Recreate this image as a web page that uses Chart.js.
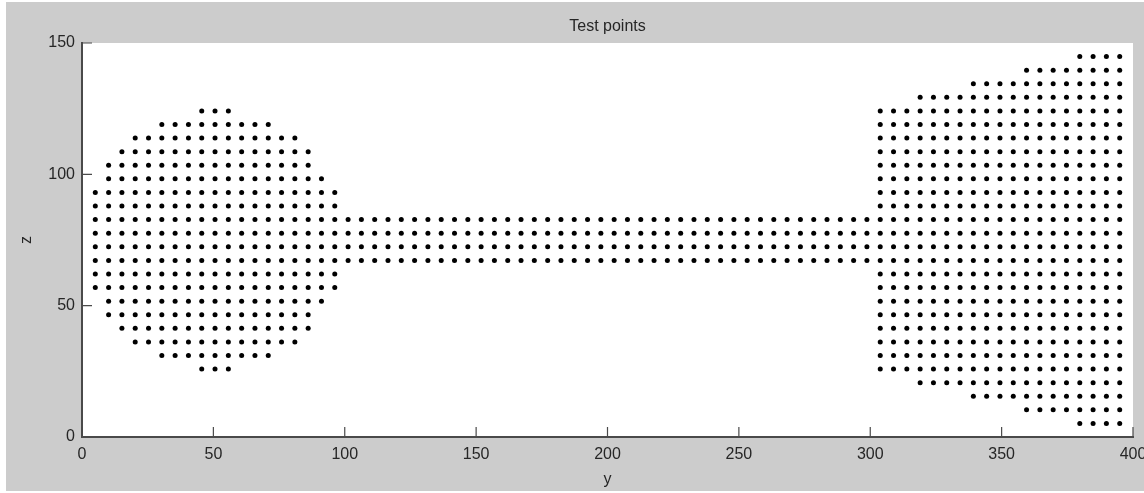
<!DOCTYPE html>
<html>
<head>
<meta charset="utf-8">
<title>Test points</title>
<script src="https://cdn.jsdelivr.net/npm/chart.js@4/dist/chart.umd.min.js"></script>
<style>
  html, body { margin: 0; padding: 0; background: #ffffff; }
  canvas { display: block; }
</style>
</head>
<body>
<canvas id="testPoints" width="1144" height="493"></canvas>
<script>
// Grid levels along y (horizontal) and z (vertical) where test points may sit
const yLevels = [
  5.06, 10.13, 15.19, 20.25, 25.32, 30.38, 35.44, 40.51, 45.57, 50.63,
  55.70, 60.76, 65.82, 70.89, 75.95, 81.01, 86.08, 91.14, 96.20, 101.27,
  106.33, 111.39, 116.46, 121.52, 126.58, 131.65, 136.71, 141.77, 146.84, 151.90,
  156.96, 162.03, 167.09, 172.15, 177.22, 182.28, 187.34, 192.41, 197.47, 202.53,
  207.59, 212.66, 217.72, 222.78, 227.85, 232.91, 237.97, 243.04, 248.10, 253.16,
  258.23, 263.29, 268.35, 273.42, 278.48, 283.54, 288.61, 293.67, 298.73, 303.80,
  308.86, 313.92, 318.99, 324.05, 329.11, 334.18, 339.24, 344.30, 349.37, 354.43,
  359.49, 364.56, 369.62, 374.68, 379.75, 384.81, 389.87, 394.94
];
const zLevels = [
  5.17, 10.34, 15.52, 20.69, 25.86, 31.03, 36.21, 41.38, 46.55, 51.72,
  56.90, 62.07, 67.24, 72.41, 77.59, 82.76, 87.93, 93.10, 98.28, 103.45,
  108.62, 113.79, 118.97, 124.14, 129.31, 134.48, 139.66, 144.83
];

// Axis ticks
const yTicks = [0, 50, 100, 150, 200, 250, 300, 350, 400];
const zTicks = [0, 50, 100, 150];

// Round lobe on the left: row (index into zLevels), first and last column (index into yLevels)
const discRows  = [5, 6, 7, 8, 9, 10, 11, 12, 13, 14, 15, 16, 17, 18, 19, 20, 21, 22, 23, 24];
const discFirst = [9, 6, 4, 3, 2, 2, 1, 1, 1, 1, 1, 1, 1, 1, 2, 2, 3, 4, 6, 9];
const discLast  = [11, 14, 16, 17, 17, 18, 19, 19, 19, 19, 19, 19, 19, 19, 18, 17, 17, 16, 14, 11];

// Connecting bar
const barRows  = [13, 14, 15, 16];
const barFirst = [20, 20, 20, 20];
const barLast  = [59, 59, 59, 59];

// Stepped block on the right
const blockRows  = [1, 2, 3, 4, 5, 6, 7, 8, 9, 10, 11, 12, 13, 14, 15, 16, 17, 18, 19, 20, 21, 22, 23, 24, 25, 26, 27, 28];
const blockFirst = [75, 71, 67, 63, 60, 60, 60, 60, 60, 60, 60, 60, 60, 60, 60, 60, 60, 60, 60, 60, 60, 60, 60, 60, 63, 67, 71, 75];
const blockLast  = [78, 78, 78, 78, 78, 78, 78, 78, 78, 78, 78, 78, 78, 78, 78, 78, 78, 78, 78, 78, 78, 78, 78, 78, 78, 78, 78, 78];

function cells(rows, first, last) {
  const pts = [];
  rows.forEach((r, i) => {
    for (let c = first[i]; c <= last[i]; c++) {
      pts.push({ x: yLevels[c - 1], y: zLevels[r - 1] });
    }
  });
  return pts;
}

const points = [
  ...cells(discRows, discFirst, discLast),
  ...cells(barRows, barFirst, barLast),
  ...cells(blockRows, blockFirst, blockLast)
];

const FONT = 'Liberation Sans, Arial, Helvetica, sans-serif';
const TEXT = '#262626';
const AXIS = '#4a4a4a';

// Gray figure frame with a white axes box
const figureBackground = {
  id: 'figureBackground',
  beforeDraw(chart) {
    const { ctx, chartArea: a } = chart;
    ctx.save();
    ctx.fillStyle = '#ffffff';
    ctx.fillRect(0, 0, chart.width, chart.height);
    ctx.fillStyle = '#cccccc';
    ctx.fillRect(6, 2, chart.width - 6, 489);
    ctx.fillStyle = '#ffffff';
    ctx.fillRect(a.left, a.top, a.right - a.left, a.bottom - a.top);
    ctx.restore();
  }
};

// Tick marks pointing into the axes box
const inwardTicks = {
  id: 'inwardTicks',
  afterDraw(chart) {
    const { ctx, chartArea: a, scales } = chart;
    const len = 10;
    ctx.save();
    ctx.strokeStyle = AXIS;
    ctx.lineWidth = 1.2;
    ctx.beginPath();
    yTicks.forEach(v => {
      const px = scales.x.getPixelForValue(v);
      ctx.moveTo(px, a.bottom);
      ctx.lineTo(px, a.bottom - len);
    });
    zTicks.forEach(v => {
      const py = scales.y.getPixelForValue(v);
      ctx.moveTo(a.left, py);
      ctx.lineTo(a.left + len, py);
    });
    ctx.stroke();
    ctx.restore();
  }
};

new Chart(document.getElementById('testPoints'), {
  type: 'scatter',
  data: {
    datasets: [{
      label: 'Test points',
      data: points,
      pointRadius: 2.5,
      pointBorderWidth: 0,
      pointBackgroundColor: '#000000',
      pointBorderColor: '#000000',
      showLine: false
    }]
  },
  options: {
    responsive: false,
    animation: false,
    events: [],
    layout: { padding: { top: 0, right: 11, bottom: 0, left: 0 } },
    plugins: {
      legend: { display: false },
      tooltip: { enabled: false },
      title: {
        display: true,
        text: 'Test points',
        fullSize: false,
        color: TEXT,
        font: { family: FONT, size: 16, weight: 'normal' },
        padding: { top: 17, bottom: 6.8 }
      }
    },
    scales: {
      x: {
        type: 'linear',
        min: 0,
        max: 400,
        afterBuildTicks: s => { s.ticks = yTicks.map(v => ({ value: v })); },
        afterFit: s => { s.height = 56; s.paddingLeft = 0; s.paddingRight = 0; },
        grid: { display: false, drawTicks: false },
        border: { display: true, color: AXIS, width: 2 },
        ticks: {
          color: TEXT,
          font: { family: FONT, size: 16 },
          padding: 8,
          maxRotation: 0,
          autoSkip: false
        },
        title: {
          display: true,
          text: 'y',
          color: TEXT,
          font: { family: FONT, size: 16 },
          padding: { top: 0, bottom: 4 }
        }
      },
      y: {
        type: 'linear',
        min: 0,
        max: 150,
        afterBuildTicks: s => { s.ticks = zTicks.map(v => ({ value: v })); },
        afterFit: s => { s.width = 82; s.paddingTop = 0; s.paddingBottom = 0; },
        grid: { display: false, drawTicks: false },
        border: { display: true, color: AXIS, width: 2 },
        ticks: {
          color: TEXT,
          font: { family: FONT, size: 16 },
          padding: 7,
          autoSkip: false
        },
        title: {
          display: true,
          text: 'z',
          color: TEXT,
          font: { family: FONT, size: 16 },
          padding: { top: 17, bottom: 0 }
        }
      }
    }
  },
  plugins: [figureBackground, inwardTicks]
});
</script>
</body>
</html>
